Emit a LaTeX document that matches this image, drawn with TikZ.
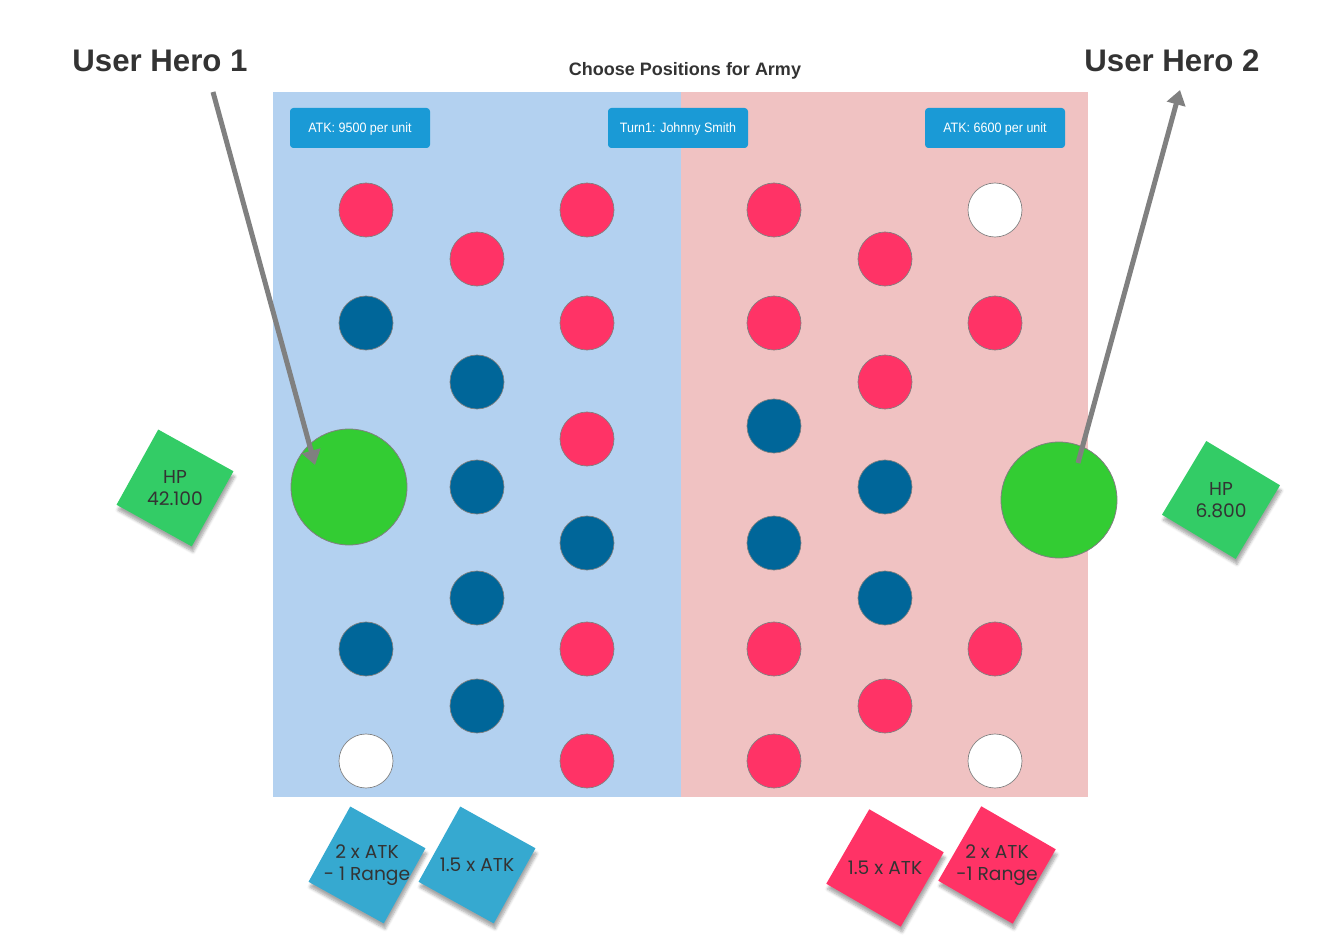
\documentclass[tikz,border=0pt]{standalone}
\usepackage{fontspec}
\setmainfont{Liberation Sans}
\newfontfamily\handfont{Poppins}
\newfontfamily\btnfont{Liberation Sans}[FakeStretch=0.92]
\usetikzlibrary{arrows.meta,shadows.blur}
\definecolor{panelblue}{HTML}{B3D1F0}
\definecolor{panelred}{HTML}{F0C2C2}
\definecolor{unitred}{HTML}{FF3366}
\definecolor{unitblue}{HTML}{006699}
\definecolor{herogreen}{HTML}{33CC33}
\definecolor{notegreen}{HTML}{33CC66}
\definecolor{noteblue}{HTML}{36A9D0}
\definecolor{btnblue}{HTML}{1A9AD6}
\definecolor{txt}{HTML}{333333}
\definecolor{arrowgray}{HTML}{808080}
\tikzset{
  unit/.style={circle, draw=arrowgray, line width=0.5pt, minimum size=40.5pt, inner sep=0pt},
  ured/.style={unit, fill=unitred},
  ublue/.style={unit, fill=unitblue},
  uwhite/.style={unit, fill=white},
  hero/.style={circle, draw=arrowgray, line width=0.6pt, fill=herogreen, minimum size=87pt, inner sep=0pt},
  btn/.style={rectangle, rounded corners=2.5pt, fill=btnblue, text=white, minimum width=105pt, minimum height=30pt, inner sep=0pt, text depth=0pt, font=\btnfont\fontsize{10.2}{12}\selectfont},
  note/.style={rectangle, minimum size=64.5pt, inner sep=0pt, blur shadow={shadow xshift=1pt, shadow yshift=-4pt, shadow blur steps=6, shadow opacity=35}},
  notetext/.style={align=center, text=txt, font=\handfont\fontsize{14}{16.5}\selectfont},
  herolabel/.style={text=txt, font=\bfseries\fontsize{23.4}{26}\selectfont},
  pointer/.style={draw=arrowgray, line width=3.75pt, -{Triangle[length=11pt,width=14pt]}},
}
\begin{document}
\begin{tikzpicture}[x=0.75pt,y=-0.75pt]
\useasboundingbox (0,0) rectangle (1332,941);
% panels
\fill[panelblue] (273,92) rectangle (681,797);
\fill[panelred] (681,92) rectangle (1088,797);
% titles
\node[text=txt, font=\bfseries\fontsize{13.5}{15}\selectfont] (title) at (685,71) {Choose Positions for Army};
\node[herolabel] (h1lab) at (160,61) {User Hero 1};
\node[herolabel] (h2lab) at (1172,61) {User Hero 2};
% buttons
\node[btn] (atk1) at (360,128) {ATK: 9500 per unit};
\node[btn] (turn) at (678,128) {Turn1: Johnny Smith};
\node[btn] (atk2) at (995,128) {ATK: 6600 per unit};
% left army
\node[ured] (l11) at (366,210) {};
\node[ublue] (l12) at (366,323) {};
\node[ublue] (l13) at (366,649) {};
\node[uwhite] (l14) at (366,761) {};
\node[ured] (l21) at (477,259) {};
\node[ublue] (l22) at (477,382) {};
\node[ublue] (l23) at (477,487) {};
\node[ublue] (l24) at (477,598) {};
\node[ublue] (l25) at (477,706) {};
\node[ured] (l31) at (587,210) {};
\node[ured] (l32) at (587,323) {};
\node[ured] (l33) at (587,439) {};
\node[ublue] (l34) at (587,543) {};
\node[ured] (l35) at (587,649) {};
\node[ured] (l36) at (587,761) {};
% right army
\node[ured] (r11) at (774,210) {};
\node[ured] (r12) at (774,323) {};
\node[ublue] (r13) at (774,426) {};
\node[ublue] (r14) at (774,543) {};
\node[ured] (r15) at (774,649) {};
\node[ured] (r16) at (774,761) {};
\node[ured] (r21) at (885,259) {};
\node[ured] (r22) at (885,382) {};
\node[ublue] (r23) at (885,487) {};
\node[ublue] (r24) at (885,598) {};
\node[ured] (r25) at (885,706) {};
\node[uwhite] (r31) at (995,210) {};
\node[ured] (r32) at (995,323) {};
\node[ured] (r33) at (995,649) {};
\node[uwhite] (r34) at (995,761) {};
% heroes
\node[hero] (hero1) at (349,487) {};
\node[hero] (hero2) at (1059,500) {};
% pointers
\coordinate (p1s) at (213,92);
\coordinate (p1e) at (315,465);
\coordinate (p2s) at (1078,463);
\coordinate (p2e) at (1180,90);
\draw[pointer] (p1s) -- (p1e);
\draw[pointer] (p2s) -- (p2e);
% sticky notes
\node[note, fill=notegreen, rotate=-29] (hp1) at (175,488) {};
\node[notetext] at (hp1.center) {HP\\42.100};
\node[note, fill=notegreen, rotate=-31] (hp2) at (1221,500) {};
\node[notetext] at (hp2.center) {HP\\6.800};
\node[note, fill=noteblue, rotate=-29] (b1) at (367,865) {};
\node[notetext] at (b1.center) {2 x ATK\\- 1 Range};
\node[note, fill=noteblue, rotate=-29] (b2) at (477,865) {};
\node[notetext] at (b2.center) {1.5 x ATK};
\node[note, fill=unitred, rotate=-30] (rn1) at (885,868) {};
\node[notetext] at (rn1.center) {1.5 x ATK};
\node[note, fill=unitred, rotate=-30] (rn2) at (997,865) {};
\node[notetext] at (rn2.center) {2 x ATK\\-1 Range};
\end{tikzpicture}
\end{document}
